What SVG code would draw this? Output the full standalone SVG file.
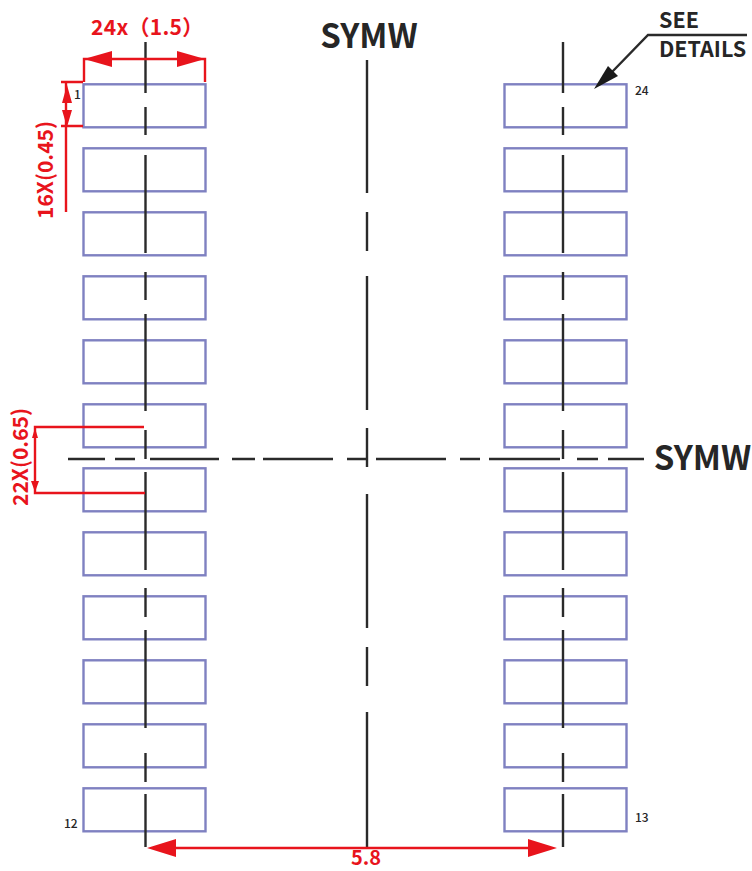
<svg xmlns="http://www.w3.org/2000/svg" width="752" height="871" viewBox="0 0 752 871">
<defs>
<style>
.pad{fill:none;stroke:#7f81c1;stroke-width:2.4}
.ctr{fill:none;stroke:#2a2a2a;stroke-width:2.4}
.dim{fill:none;stroke:#e8141c;stroke-width:2.4}
.head{fill:#e8141c;stroke:none}
.t{font-family:"Noto Sans CJK SC","Noto Sans",sans-serif;font-weight:700}
.red{fill:#e8141c;font-size:21px}
.blk{fill:#262626;font-size:21.500px}
.sym{fill:#262626;font-size:33px}
.pin{fill:#262626;font-size:12px;font-weight:500}
</style>
</defs>
<rect width="752" height="871" fill="#fff"/>
<g id="pads-left" transform="translate(0.5 0.3)">
<rect id="pad-1" class="pad" x="83" y="84" width="122" height="43"/>
<rect id="pad-2" class="pad" x="83" y="148" width="122" height="43"/>
<rect id="pad-3" class="pad" x="83" y="212" width="122" height="43"/>
<rect id="pad-4" class="pad" x="83" y="276" width="122" height="43"/>
<rect id="pad-5" class="pad" x="83" y="340" width="122" height="43"/>
<rect id="pad-6" class="pad" x="83" y="404" width="122" height="43"/>
<rect id="pad-7" class="pad" x="83" y="468" width="122" height="43"/>
<rect id="pad-8" class="pad" x="83" y="532" width="122" height="43"/>
<rect id="pad-9" class="pad" x="83" y="596" width="122" height="43"/>
<rect id="pad-10" class="pad" x="83" y="660" width="122" height="43"/>
<rect id="pad-11" class="pad" x="83" y="724" width="122" height="43"/>
<rect id="pad-12" class="pad" x="83" y="788" width="122" height="43"/>
</g>
<g id="pads-right" transform="translate(0.5 0.3)">
<rect id="pad-24" class="pad" x="504" y="84" width="122" height="43"/>
<rect id="pad-23" class="pad" x="504" y="148" width="122" height="43"/>
<rect id="pad-22" class="pad" x="504" y="212" width="122" height="43"/>
<rect id="pad-21" class="pad" x="504" y="276" width="122" height="43"/>
<rect id="pad-20" class="pad" x="504" y="340" width="122" height="43"/>
<rect id="pad-19" class="pad" x="504" y="404" width="122" height="43"/>
<rect id="pad-18" class="pad" x="504" y="468" width="122" height="43"/>
<rect id="pad-17" class="pad" x="504" y="532" width="122" height="43"/>
<rect id="pad-16" class="pad" x="504" y="596" width="122" height="43"/>
<rect id="pad-15" class="pad" x="504" y="660" width="122" height="43"/>
<rect id="pad-14" class="pad" x="504" y="724" width="122" height="43"/>
<rect id="pad-13" class="pad" x="504" y="788" width="122" height="43"/>
</g>
<g id="connectors">
<path id="center-left" class="ctr" d="M145.500 42V93M145.500 107V135M145.500 155V253M145.500 272V300M145.500 314V411M145.500 430V459M145.500 472V570M145.500 588V617M145.500 630V728M145.500 753V782M145.500 794V847"/>
<path id="center-right" class="ctr" d="M563 42V93M563 107V135M563 155V253M563 272V300M563 314V411M563 430V459M563 472V570M563 588V617M563 630V728M563 753V782M563 794V847"/>
<path id="center-mid" class="ctr" d="M367 60V193M367 212V251M367 276V410M367 428V467M367 494V628M367 647V686M367 712V847"/>
<path id="center-h" class="ctr" d="M68 459H105M115 459H135M150 459H219M232 459H255M263 459H333M347 459H367M376 459H446M460 459H480M489 459H560M577 459H598M608 459H644"/>
<path id="dim-width" class="dim" d="M84 82V59H205V82"/>
<path class="head" d="M84 59L112 51V67ZM205 59L177 51V67Z"/>
<path id="dim-pitch" class="dim" d="M61 82H83M61 126H83M66 82V212"/>
<path class="head" d="M67 85L72 103H62ZM67 127L72 110H62Z"/>
<path id="dim-gap" class="dim" d="M144 427H35V493H145"/>
<path class="head" d="M35 428L38 438H32ZM35 492L39 481H31Z"/>
<path id="dim-span" class="dim" d="M160 848H540"/>
<path class="head" d="M147 848L176 839V857ZM557 848L528 839V857Z"/>
<path id="leader" class="ctr" d="M747 35H648L612 72"/>
<path d="M594 89L608 66L618 76Z" fill="#1a1a1a"/>
</g>
<g id="labels">
<text class="t red" x="91" y="35" letter-spacing="0.3">24x（1.5）</text>
<text class="t red" transform="translate(53 170) rotate(-90)" text-anchor="middle">16X(0.45)</text>
<text class="t red" transform="translate(28 457) rotate(-90)" text-anchor="middle">22X(0.65)</text>
<text class="t red" style="font-size:20px" x="366" y="865" text-anchor="middle">5.8</text>
<text class="t sym" x="369" y="48" text-anchor="middle">SYMW</text>
<text class="t sym" x="702.500" y="470" text-anchor="middle">SYMW</text>
<text class="t blk" x="659" y="28">SEE</text>
<text class="t blk" x="659" y="57">DETAILS</text>
<text class="t pin" x="74" y="99">1</text>
<text class="t pin" x="64" y="828">12</text>
<text class="t pin" x="635" y="95">24</text>
<text class="t pin" x="635" y="822">13</text>
</g>
</svg>
